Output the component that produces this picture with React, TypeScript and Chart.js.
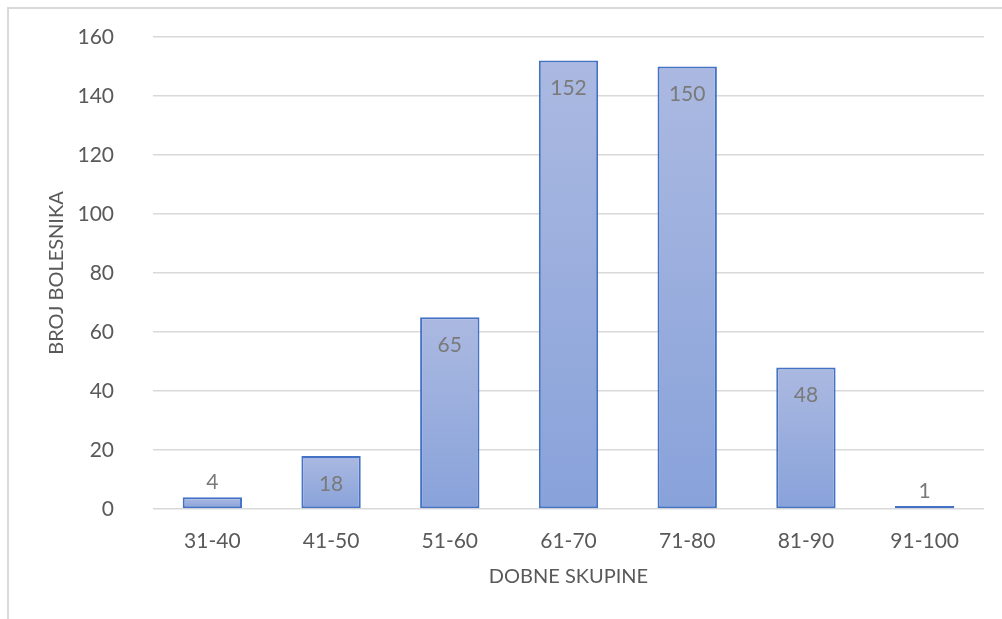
import React, { useEffect, useRef } from "react";
import { Chart, registerables } from "chart.js";

Chart.register(...registerables);

const categories = ["31-40", "41-50", "51-60", "61-70", "71-80", "81-90", "91-100"];
const patients = [4, 18, 65, 152, 150, 48, 1];
const yTitle = "BROJ BOLESNIKA";
const xTitle = "DOBNE SKUPINE";

const FONT = "Lato, 'Open Sans', sans-serif";

const barFill = (c: any) => {
  const chart = c.chart;
  const y = chart.scales?.y;
  if (!chart.chartArea || !y || c.raw == null) return "#9aafdf";
  const top = y.getPixelForValue(c.raw);
  const base = y.getPixelForValue(0);
  const g = chart.ctx.createLinearGradient(0, Math.min(top, base), 0, Math.max(top, base) + 0.01);
  g.addColorStop(0, "#abb9e1");
  g.addColorStop(1, "#88a2da");
  return g;
};

const labelPlugin = {
  id: "valueLabels",
  afterDatasetsDraw(chart: any) {
    const ctx = chart.ctx;
    const ds = chart.data.datasets[0];
    ctx.save();
    ctx.font = `21px ${FONT}`;
    ctx.fillStyle = "#7a7a7a";
    ctx.textAlign = "center";
    ctx.textBaseline = "middle";
    chart.getDatasetMeta(0).data.forEach((el: any, i: number) => {
      const h = el.base - el.y;
      const y = h > 30 ? el.y + 28 : el.y - 15;
      ctx.fillText(String(ds.data[i]), el.x, y);
    });
    ctx.restore();
  },
};

export default function App() {
  const ref = useRef<HTMLCanvasElement>(null);
  useEffect(() => {
    const chart = new Chart(ref.current!, {
      type: "bar",
      data: {
        labels: categories,
        datasets: [
          {
            data: patients,
            backgroundColor: barFill,
            borderColor: "#4472c4",
            borderWidth: 2,
            borderSkipped: false,
            barPercentage: 0.5,
            categoryPercentage: 1,
          },
        ],
      },
      options: {
        responsive: false,
        animation: false,
        layout: { padding: { top: 29, right: 18, left: 0, bottom: 0 } },
        plugins: { legend: { display: false }, tooltip: { enabled: false } },
        scales: {
          x: {
            grid: { display: false, drawTicks: false },
            border: { display: false },
            ticks: { color: "#595959", font: { family: FONT, size: 21 }, padding: 20 },
            title: {
              display: true,
              text: xTitle,
              color: "#595959",
              font: { family: FONT, size: 20 },
              padding: { top: 0, bottom: 30 },
            },
            afterFit: (s: any) => {
              s.height = 110;
            },
          },
          y: {
            min: 0,
            max: 160,
            grid: {
              color: "#d9d9d9",
              lineWidth: 1.5,
              drawTicks: true,
              tickLength: 39,
              tickColor: "rgba(0,0,0,0)",
            },
            border: { display: false },
            ticks: { stepSize: 20, color: "#595959", font: { family: FONT, size: 21 }, padding: 0 },
            title: {
              display: true,
              text: yTitle,
              color: "#595959",
              font: { family: FONT, size: 20 },
              padding: { top: 37, bottom: 0 },
            },
            afterFit: (s: any) => {
              s.width = 145;
            },
          },
        },
      },
      plugins: [labelPlugin],
    });
    return () => chart.destroy();
  }, []);

  return (
    <div style={{ position: "fixed", left: 0, top: 0, width: 1002, height: 619, background: "#fff", overflow: "hidden" }}>
      <div
        style={{
          position: "absolute",
          left: 7,
          top: 7,
          width: 995,
          height: 612,
          borderLeft: "2px solid #d9d9d9",
          borderTop: "2px solid #d9d9d9",
          boxSizing: "border-box",
        }}
      />
      <canvas ref={ref} width={994} height={611} style={{ position: "absolute", left: 8, top: 8 }} />
    </div>
  );
}
